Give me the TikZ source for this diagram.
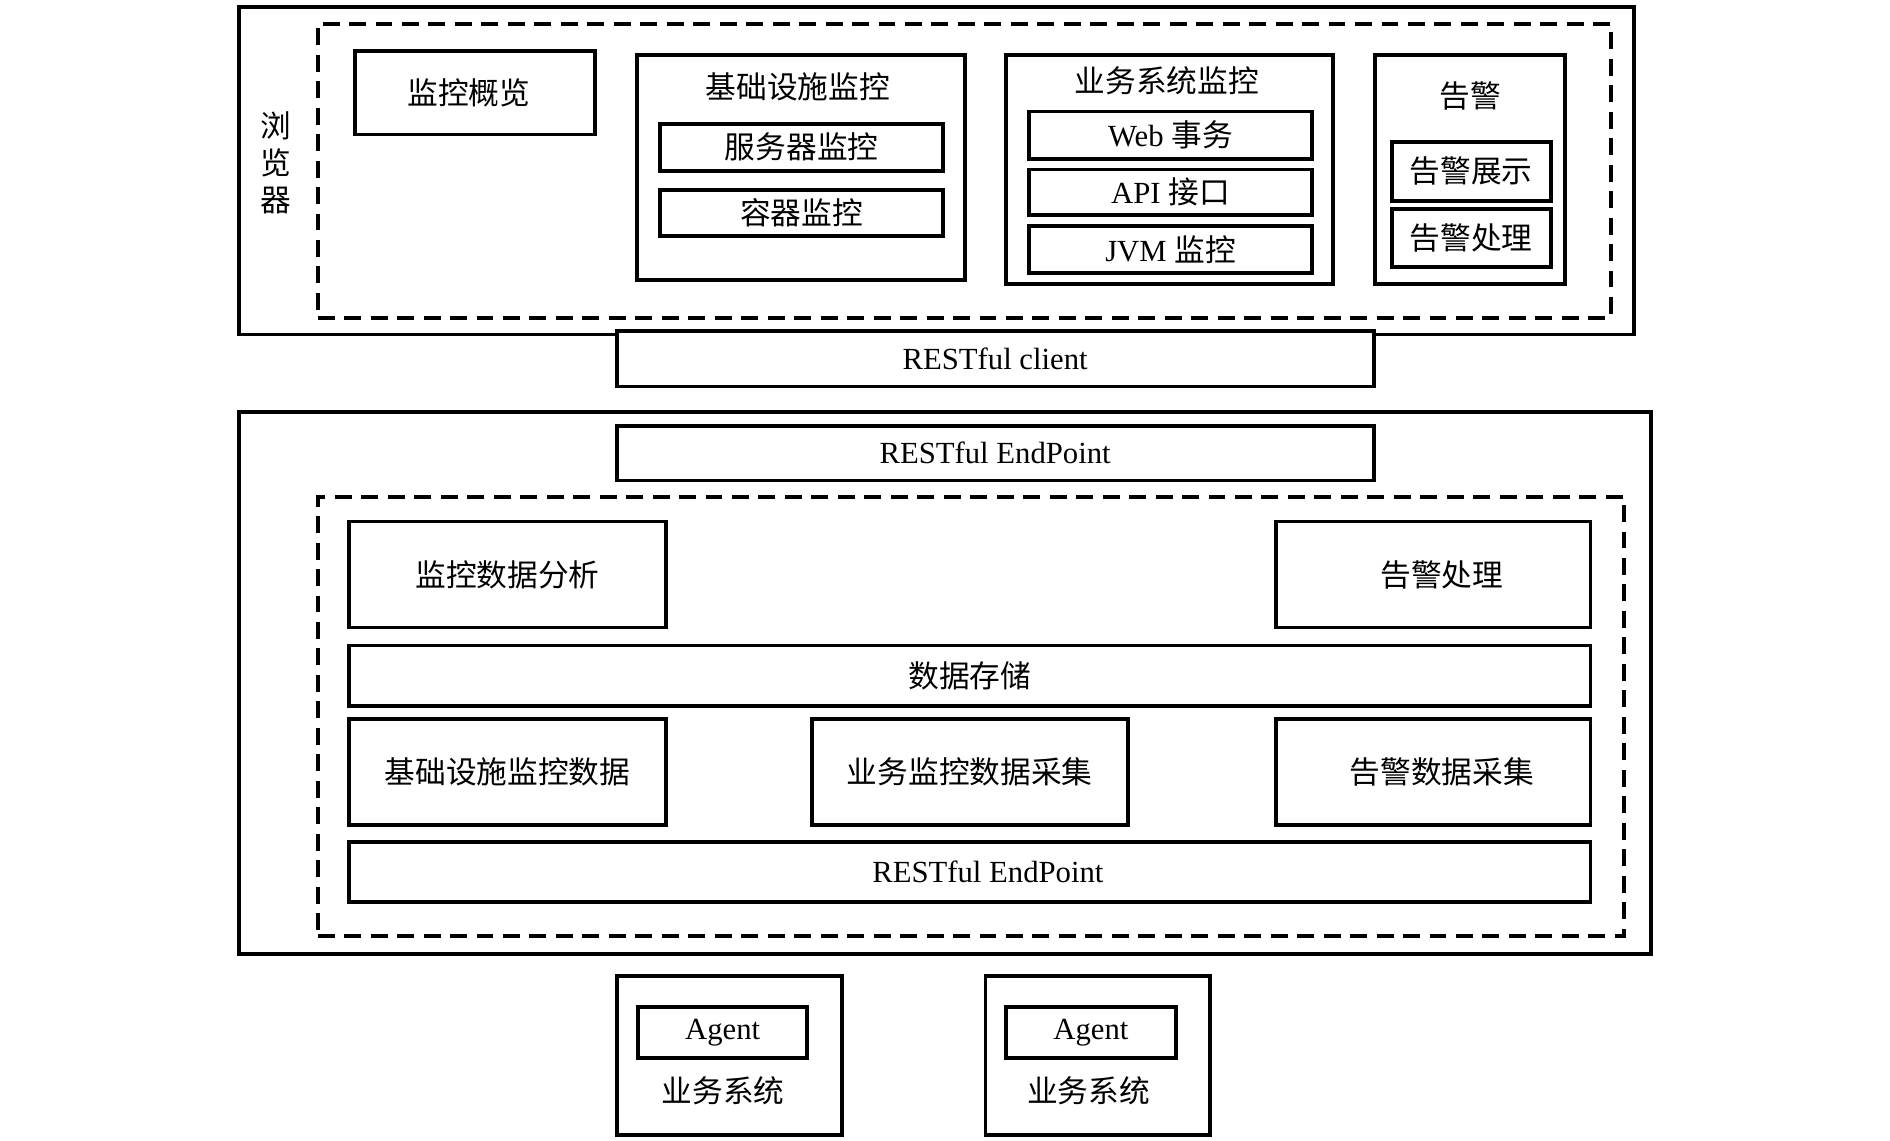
\documentclass[tikz,border=0pt]{standalone}
\usepackage{fontspec}
\setmainfont{Liberation Serif}
\newfontfamily\zh{Noto Sans CJK SC}
\usetikzlibrary{shadows}
\tikzset{
  box/.style={draw=black, line width=1.8pt, fill=white, inner sep=0pt,
    drop shadow={shadow xshift=0.7pt, shadow yshift=-0.7pt, fill=black!40, opacity=1},
    font=\fontsize{14.5}{17}\selectfont},
  dashbox/.style={draw=black, line width=1.8pt, dash pattern=on 8pt off 4.5pt, inner sep=0pt},
  lbl/.style={inner sep=0pt, font=\fontsize{14.5}{17.6}\selectfont, align=center},
}
\def\R#1#2#3#4#5#6#7{\node[#1, anchor=north west, minimum width={(#5-#3)*0.02cm}, minimum height={(#6-#4)*0.02cm}] (#2) at (#3,#4) {#7};}
\begin{document}
\begin{tikzpicture}[x=0.02cm, y=-0.02cm]
\useasboundingbox[fill=white] (0,0) rectangle (1568,946);
% ===== browser layer =====
\R{box}{browser}{197}{4}{1354}{276}{}
\R{dashbox}{browserdash}{262}{18}{1335}{262}{}
\node[lbl] (browserlbl) at (229,135) {\zh 浏\\\zh 览\\\zh 器};
\R{box}{overview}{293}{41}{492}{110}{\zh 监控概览\hspace*{0.2cm}}
\R{box}{infra}{527}{44}{799}{231}{}
\node[lbl] (infralbl) at (662,72) {\zh 基础设施监控};
\R{box}{server}{546}{101}{781}{140}{\zh 服务器监控}
\R{box}{container}{546}{156}{781}{194}{\zh 容器监控}
\R{box}{biz}{833}{44}{1104}{234}{}
\node[lbl] (bizlbl) at (968,67) {\zh 业务系统监控};
\R{box}{web}{852}{91}{1087}{130}{Web {\zh 事务}}
\R{box}{api}{852}{139}{1087}{177}{API {\zh 接口}}
\R{box}{jvm}{852}{186}{1087}{225}{JVM {\zh 监控}}
\R{box}{alarm}{1139}{44}{1297}{234}{}
\node[lbl] (alarmlbl) at (1220,80) {\zh 告警};
\R{box}{alarmshow}{1153}{116}{1285}{165}{\zh 告警展示}
\R{box}{alarmproc}{1153}{172}{1285}{220}{\zh 告警处理}
\R{box}{client}{510}{273}{1138}{319}{RESTful client}
% ===== server layer =====
\R{box}{serverlayer}{197}{340}{1368}{790}{}
\R{box}{endpointtop}{510}{352}{1138}{397}{RESTful EndPoint}
\R{dashbox}{serverdash}{262}{411}{1346}{775}{}
\R{box}{analysis}{288}{431}{551}{519}{\zh 监控数据分析}
\R{box}{alarmproc2}{1057}{431}{1318}{519}{\hspace*{0.28cm}\zh 告警处理}
\R{box}{storage}{288}{534}{1318}{584}{\zh 数据存储}
\R{box}{infradata}{288}{595}{551}{683}{\zh 基础设施监控数据}
\R{box}{bizdata}{672}{595}{934}{683}{\zh 业务监控数据采集}
\R{box}{alarmdata}{1057}{595}{1318}{683}{\hspace*{0.28cm}\zh 告警数据采集}
\R{box}{endpointbot}{288}{697}{1318}{747}{\hspace*{0.6cm}RESTful EndPoint}
% ===== agents =====
\R{box}{sysA}{510}{808}{697}{940}{}
\R{box}{agentA}{528}{834}{668}{876}{Agent}
\node[lbl] (sysAlbl) at (600,905) {\zh 业务系统};
\R{box}{sysB}{816}{808}{1002}{940}{}
\R{box}{agentB}{833}{834}{974}{876}{Agent}
\node[lbl] (sysBlbl) at (903,905) {\zh 业务系统};
\end{tikzpicture}
\end{document}
